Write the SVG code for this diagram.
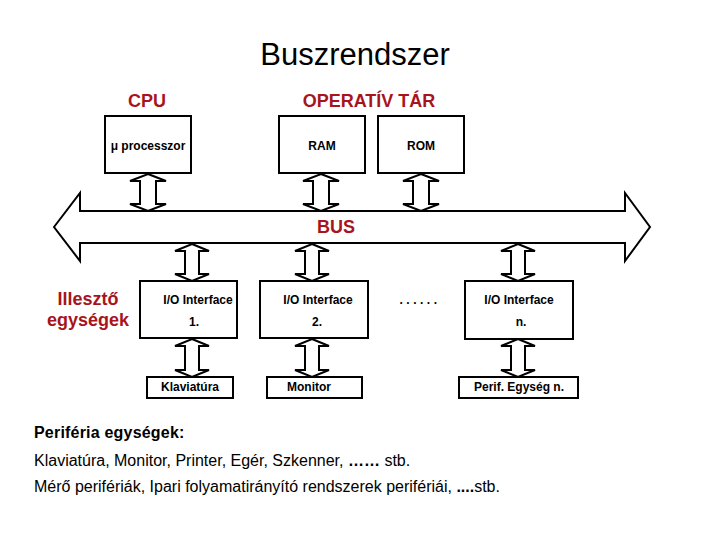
<svg xmlns="http://www.w3.org/2000/svg" width="720" height="540" viewBox="0 0 720 540">
<style>
text{font-family:"Liberation Sans",Arial,sans-serif;fill:#000}
.title{font-size:31px;text-anchor:middle}
.red{font-size:18px;font-weight:bold;fill:#a8141c;text-anchor:middle}
.bt{font-size:12px;font-weight:bold;text-anchor:middle}
.box{fill:#fff;stroke:#000;stroke-width:2}
.arr{fill:#fff;stroke:#000;stroke-width:2;stroke-linejoin:miter}
.low{font-size:16px}
</style>
<rect width="720" height="540" fill="#fff"/>
<text class="title" x="355" y="65">Buszrendszer</text>
<text class="red" x="147" y="107">CPU</text>
<text class="red" x="369" y="107">OPERATÍV TÁR</text>

<g id="connectors">
<polygon id="bus" class="arr" stroke-width="2.5" points="54,227 80,193 80,211 625,211 625,193 650,227 625,261 625,243 80,243 80,261"/>
<polygon class="arr" points="148,174 166,181 156,181 156,204 166,204 148,211 130,204 140,204 140,181 130,181"/>
<polygon class="arr" points="321,174 339,181 329,181 329,204 339,204 321,211 303,204 313,204 313,181 303,181"/>
<polygon class="arr" points="421,174 439,181 429,181 429,204 439,204 421,211 403,204 413,204 413,181 403,181"/>
<polygon class="arr" points="192,244 209,251 199,251 199,274 209,274 192,281 175,274 185,274 185,251 175,251"/>
<polygon class="arr" points="312,244 329,251 319,251 319,274 329,274 312,281 295,274 305,274 305,251 295,251"/>
<polygon class="arr" points="518,244 535,251 525,251 525,274 535,274 518,281 501,274 511,274 511,251 501,251"/>
<polygon class="arr" points="192,339 209,346 199,346 199,370 209,370 192,377 175,370 185,370 185,346 175,346"/>
<polygon class="arr" points="312,339 329,346 319,346 319,370 329,370 312,377 295,370 305,370 305,346 295,346"/>
<polygon class="arr" points="518,339 535,346 525,346 525,370 535,370 518,377 501,370 511,370 511,346 501,346"/>
</g>
<text class="red" x="336" y="233" font-size="17">BUS</text>

<g id="cpu"><rect class="box" x="105" y="116" width="86" height="57"/><text class="bt" x="148" y="150">μ processzor</text></g>
<g id="ram"><rect class="box" x="279" y="116" width="86" height="57"/><text class="bt" x="322" y="150">RAM</text></g>
<g id="rom"><rect class="box" x="378" y="116" width="86" height="57"/><text class="bt" x="421" y="150">ROM</text></g>

<g id="illeszto"><text class="red" x="88" y="305">Illesztő</text><text class="red" x="88" y="326">egységek</text></g>

<g id="io1"><rect class="box" x="140" y="281" width="97" height="57"/><text class="bt" x="198" y="304">I/O Interface</text><text class="bt" x="194" y="326">1.</text></g>
<g id="io2"><rect class="box" x="260" y="281" width="108" height="57"/><text class="bt" x="318" y="304">I/O Interface</text><text class="bt" x="317" y="326">2.</text></g>
<g id="dots"><text class="bt" x="420" y="304" letter-spacing="3.5">......</text></g>
<g id="ion"><rect class="box" x="465" y="281" width="108" height="58"/><text class="bt" x="519" y="304">I/O Interface</text><text class="bt" x="521" y="326">n.</text></g>

<g id="klav"><rect class="box" x="147" y="377" width="86" height="21"/><text class="bt" x="190" y="391">Klaviatúra</text></g>
<g id="monitor"><rect class="box" x="267" y="377" width="95" height="21"/><text class="bt" x="309" y="391">Monitor</text></g>
<g id="perif"><rect class="box" x="459" y="377" width="119" height="21"/><text class="bt" x="519" y="391">Perif. Egység n.</text></g>

<g id="notes">
<text class="low" x="34" y="438" font-weight="bold" letter-spacing="0.2">Periféria egységek:</text>
<text class="low" x="34" y="466">Klaviatúra, Monitor, Printer, Egér, Szkenner, <tspan font-weight="bold">……</tspan> stb.</text>
<text class="low" x="34" y="492">Mérő perifériák, Ipari folyamatirányító rendszerek perifériái, <tspan font-weight="bold">....</tspan>stb.</text>
</g>
</svg>
